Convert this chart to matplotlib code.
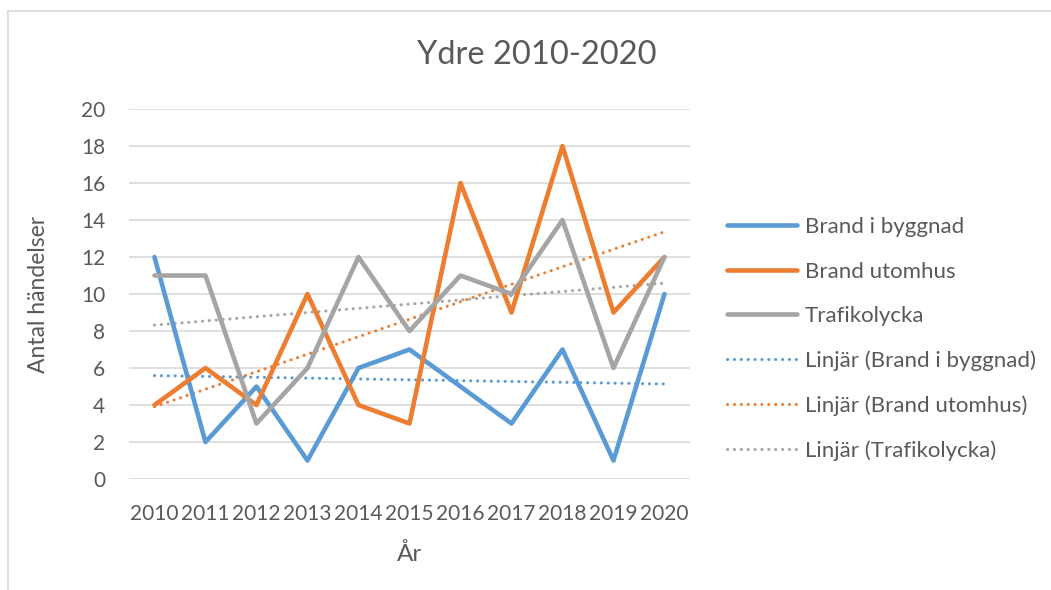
import numpy as np
import matplotlib.pyplot as plt

plt.rcParams['font.family'] = ['Lato', 'DejaVu Sans']

years = [2010, 2011, 2012, 2013, 2014, 2015, 2016, 2017, 2018, 2019, 2020]
brand_byggnad = [12, 2, 5, 1, 6, 7, 5, 3, 7, 1, 10]
brand_utomhus = [4, 6, 4, 10, 4, 3, 16, 9, 18, 9, 12]
trafikolycka = [11, 11, 3, 6, 12, 8, 11, 10, 14, 6, 12]

series = [("Brand i byggnad", brand_byggnad, "#5B9BD5"),
          ("Brand utomhus", brand_utomhus, "#ED7D31"),
          ("Trafikolycka", trafikolycka, "#A5A5A5")]

txt = "#595959"

fig = plt.figure(figsize=(10.51, 5.90), dpi=100)
ax = fig.add_axes([0.1227, 0.1881, 0.5338, 0.6271])

x = np.array(years)
for name, vals, col in series:
    ax.plot(x, vals, color=col, lw=3.3, label=name, solid_joinstyle='round', solid_capstyle='round', zorder=3)

# linear trend lines, like Excel's "Linjär"
for name, vals, col in series:
    k, m = np.polyfit(x, vals, 1)
    ax.plot(x, k * x + m, color=col, lw=2.2, linestyle=(0, (0.05, 2.2)),
            dash_capstyle='round', label="Linjär (" + name + ")", zorder=2)

ax.set_xlim(2009.5, 2020.5)
ax.set_ylim(0, 20)
ax.set_yticks(range(0, 21, 2))
ax.set_xticks(years)
ax.grid(axis='y', color='#D9D9D9', lw=1.2)
ax.set_axisbelow(True)
for s in ax.spines.values():
    s.set_visible(False)
ax.tick_params(length=0, labelsize=15, colors=txt, pad=17)
ax.tick_params(axis='x', pad=18)
ax.set_xlabel("År", fontsize=17.5, color=txt, labelpad=14)
ax.set_ylabel("Antal händelser", fontsize=16.5, color=txt, labelpad=23)

fig.text(0.511, 0.907, "Ydre 2010-2020", ha='center', va='center', fontsize=23.5, color=txt)

leg = fig.legend(loc='upper left', bbox_to_anchor=(0.6727, 0.6660), frameon=False,
                 fontsize=16, handlelength=3.15, labelspacing=1.10, handletextpad=0.36)
for t in leg.get_texts():
    t.set_color(txt)

# chart border (left and top visible)
fig.add_artist(plt.Line2D([8 / 1051, 8 / 1051], [0, 1 - 11 / 590], color='#D9D9D9', lw=1.2, transform=fig.transFigure))
fig.add_artist(plt.Line2D([8 / 1051, 1], [1 - 11 / 590, 1 - 11 / 590], color='#D9D9D9', lw=1.2, transform=fig.transFigure))

fig.savefig("out.png", dpi=100)
